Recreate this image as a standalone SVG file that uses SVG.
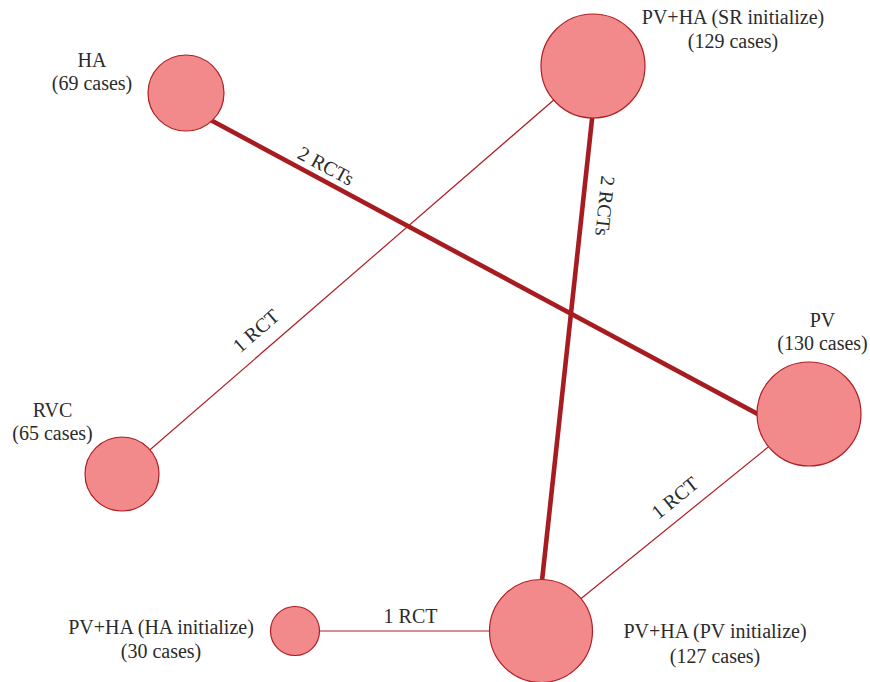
<svg xmlns="http://www.w3.org/2000/svg" width="870" height="682" viewBox="0 0 870 682">
<style>
.node{fill:#f28a8c;stroke:#b01e23;stroke-width:1.2}
.thick{stroke:#a61c20;stroke-width:4.6;fill:none}
.thin{stroke:#b01e23;stroke-width:1.2;fill:none}
text{font-family:"Liberation Serif","Times New Roman",serif;font-size:20px;fill:#2b2b2b;text-anchor:middle}
</style>
<rect width="870" height="682" fill="#ffffff"/>
<g id="connectors">
<line class="thick" x1="205" y1="117" x2="765" y2="418"/>
<line class="thick" x1="593" y1="110" x2="541" y2="590"/>
<line class="thin" x1="593" y1="66" x2="122" y2="474"/>
<line class="thin" x1="809" y1="414" x2="541" y2="631"/>
<line class="thin" x1="295" y1="631" x2="541" y2="631"/>
<text transform="translate(326,166) rotate(28.2)" dy="0.33em">2 RCTs</text>
<text transform="translate(605,206) rotate(96)" dy="0.33em">2 RCTs</text>
<text transform="translate(256,331) rotate(-40.9)" dy="0.33em">1 RCT</text>
<text transform="translate(675,498) rotate(-39)" dy="0.33em">1 RCT</text>
<text x="410.5" y="623">1 RCT</text>
</g>
<g id="HA">
<circle class="node" cx="186" cy="93" r="38"/>
<text x="92" y="67">HA</text>
<text x="92" y="90">(69 cases)</text>
</g>
<g id="PVHA_SR">
<circle class="node" cx="593" cy="66" r="52"/>
<text x="733" y="24">PV+HA (SR initialize)</text>
<text x="733" y="48">(129 cases)</text>
</g>
<g id="PV">
<circle class="node" cx="809" cy="414" r="52"/>
<text x="822.5" y="327">PV</text>
<text x="822.5" y="350">(130 cases)</text>
</g>
<g id="RVC">
<circle class="node" cx="122" cy="474" r="37"/>
<text x="52.5" y="417">RVC</text>
<text x="52.5" y="440">(65 cases)</text>
</g>
<g id="PVHA_HA">
<circle class="node" cx="295" cy="631" r="24.5"/>
<text x="161" y="634">PV+HA (HA initialize)</text>
<text x="161" y="658">(30 cases)</text>
</g>
<g id="PVHA_PV">
<circle class="node" cx="541" cy="631" r="51.5"/>
<text x="715" y="638">PV+HA (PV initialize)</text>
<text x="715" y="663">(127 cases)</text>
</g>
</svg>
